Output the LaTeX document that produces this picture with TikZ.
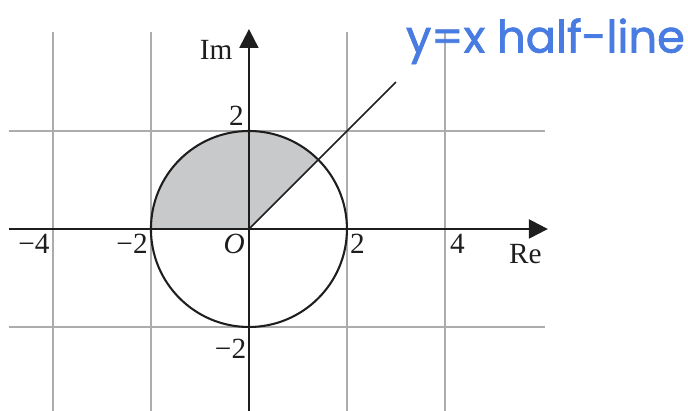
\documentclass[tikz,border=0pt]{standalone}
\usepackage{fontspec}
\setmainfont{Liberation Serif}
\newfontfamily\handfont[FakeBold=1.6]{Poppins}
\usepackage{tikz}
\usetikzlibrary{positioning}
\usetikzlibrary{arrows.meta}
\definecolor{gridgrey}{RGB}{172,172,172}
\definecolor{regiongrey}{RGB}{200,201,203}
\definecolor{axisblack}{RGB}{30,30,30}
\definecolor{penblue}{RGB}{72,124,226}

\begin{document}
\begin{tikzpicture}[
    gridline/.style={draw=gridgrey, line width=1.2pt},
    axisline/.style={draw=axisblack, line width=1.4pt, -{Triangle[length=11pt,width=11pt]}},
    lbl/.style={inner sep=0pt, text=axisblack, font=\fontsize{17}{20}\selectfont},
  ]
    \useasboundingbox (-5.08,-3.714) rectangle (8.96,4.673);

    \coordinate (O) at (0,0);
    \coordinate (xl) at (-4.9,0);
    \coordinate (xr) at (6.1,0);
    \coordinate (yb) at (0,-3.714);
    \coordinate (yt) at (0,4.08);
    \coordinate (m4) at (-4,0);
    \coordinate (m2) at (-2,0);
    \coordinate (p2) at (2,0);
    \coordinate (p4) at (4,0);
    \coordinate (q2) at (0,2);
    \coordinate (n2) at (0,-2);
    \coordinate (h) at (3,3);

    \fill[regiongrey] (O) -- (45:2) arc[start angle=45, end angle=180, radius=2] -- cycle;

    \foreach \x in {-4,-2,2,4}
        \draw[gridline] (\x,-3.714) -- (\x,4.02);
    \foreach \y in {-2,2}
        \draw[gridline] (-4.9,\y) -- (6.04,\y);

    \draw[axisblack, line width=1.2pt] (O) circle[radius=2];
    \draw[axisline] (xl) -- (xr);
    \draw[axisline] (yb) -- (yt);
    \draw[axisblack, line width=0.9pt] (O) -- (h);

    \node[lbl, below left=0.1 and 0.06 of m4] (lm4) {−4};
    \node[lbl, below left=0.1 and 0.06 of m2] (lm2) {−2};
    \node[lbl, below left=0.1 and 0.08 of O] (lO) {\itshape O};
    \node[lbl, below right=0.1 and 0.06 of p2] (lp2) {2};
    \node[lbl, below right=0.1 and 0.1 of p4] (lp4) {4};
    \node[lbl, above left=0.1 and 0.1 of q2] (lq2) {2};
    \node[lbl, below left=0.25 and 0.05 of n2] (ln2) {−2};
    \node[lbl, below right=0.3 and 5.3 of O] (lre) {Re};
    \node[lbl, anchor=base east] (lim) at (-0.33,3.45) {Im};

    \node[inner sep=0pt, anchor=base west, text=penblue, font=\handfont\fontsize{26}{30}\selectfont] (hl) at (3.2,3.6) {y=x half-line};
\end{tikzpicture}
\end{document}
